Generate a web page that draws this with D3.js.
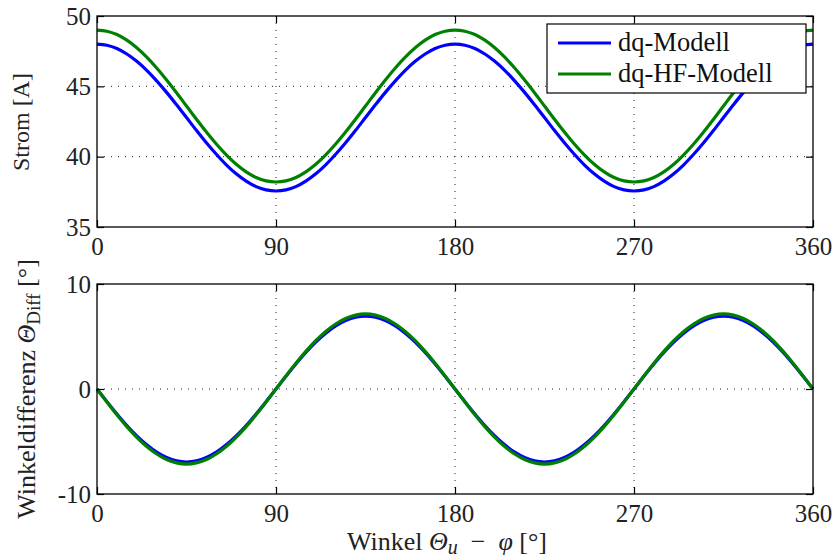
<!DOCTYPE html>
<html>
<head>
<meta charset="utf-8">
<script src="https://cdn.jsdelivr.net/npm/d3@7"></script>
<style>
  html, body { margin: 0; padding: 0; background: #fff; }
  svg { display: block; font-family: "Liberation Serif", "Times New Roman", serif; }
  .grid line { stroke: #222; stroke-width: 1; stroke-dasharray: 1,6; }
  .frame { fill: none; stroke: #000; stroke-width: 1.3; }
</style>
</head>
<body>
<svg id="chart" width="836" height="560"></svg>
<script>
// Angle grid in degrees (sampled every 5°)
const angles = d3.range(0, 361, 5);

// Current over angle [A]
const stromDq = [
  48.00, 47.92, 47.69, 47.30, 46.78, 46.14, 45.39, 44.57, 43.69, 42.78,
  41.87, 40.99, 40.17, 39.42, 38.78, 38.26, 37.87, 37.64, 37.56,
  37.64, 37.87, 38.26, 38.78, 39.42, 40.17, 40.99, 41.87, 42.78,
  43.69, 44.57, 45.39, 46.14, 46.78, 47.30, 47.69, 47.92, 48.00,
  47.92, 47.69, 47.30, 46.78, 46.14, 45.39, 44.57, 43.69, 42.78,
  41.87, 40.99, 40.17, 39.42, 38.78, 38.26, 37.87, 37.64, 37.56,
  37.64, 37.87, 38.26, 38.78, 39.42, 40.17, 40.99, 41.87, 42.78,
  43.69, 44.57, 45.39, 46.14, 46.78, 47.30, 47.69, 47.92, 48.00
];
const stromHf = [
  49.00, 48.92, 48.68, 48.28, 47.74, 47.07, 46.30, 45.45, 44.54, 43.60,
  42.66, 41.75, 40.90, 40.13, 39.46, 38.92, 38.52, 38.28, 38.20,
  38.28, 38.52, 38.92, 39.46, 40.13, 40.90, 41.75, 42.66, 43.60,
  44.54, 45.45, 46.30, 47.07, 47.74, 48.28, 48.68, 48.92, 49.00,
  48.92, 48.68, 48.28, 47.74, 47.07, 46.30, 45.45, 44.54, 43.60,
  42.66, 41.75, 40.90, 40.13, 39.46, 38.92, 38.52, 38.28, 38.20,
  38.28, 38.52, 38.92, 39.46, 40.13, 40.90, 41.75, 42.66, 43.60,
  44.54, 45.45, 46.30, 47.07, 47.74, 48.28, 48.68, 48.92, 49.00
];

// Angle difference over angle [°]
const diffDq = [
  0.00, -1.21, -2.38, -3.48, -4.47, -5.32, -6.02, -6.53, -6.85, -6.95,
  -6.85, -6.53, -6.02, -5.32, -4.47, -3.48, -2.38, -1.21, 0.00,
  1.21, 2.38, 3.48, 4.47, 5.32, 6.02, 6.53, 6.85, 6.95,
  6.85, 6.53, 6.02, 5.32, 4.47, 3.48, 2.38, 1.21, 0.00,
  -1.21, -2.38, -3.48, -4.47, -5.32, -6.02, -6.53, -6.85, -6.95,
  -6.85, -6.53, -6.02, -5.32, -4.47, -3.48, -2.38, -1.21, 0.00,
  1.21, 2.38, 3.48, 4.47, 5.32, 6.02, 6.53, 6.85, 6.95,
  6.85, 6.53, 6.02, 5.32, 4.47, 3.48, 2.38, 1.21, 0.00
];
const diffHf = [
  0.00, -1.24, -2.45, -3.58, -4.60, -5.48, -6.19, -6.72, -7.04, -7.15,
  -7.04, -6.72, -6.19, -5.48, -4.60, -3.58, -2.45, -1.24, 0.00,
  1.24, 2.45, 3.58, 4.60, 5.48, 6.19, 6.72, 7.04, 7.15,
  7.04, 6.72, 6.19, 5.48, 4.60, 3.58, 2.45, 1.24, 0.00,
  -1.24, -2.45, -3.58, -4.60, -5.48, -6.19, -6.72, -7.04, -7.15,
  -7.04, -6.72, -6.19, -5.48, -4.60, -3.58, -2.45, -1.24, 0.00,
  1.24, 2.45, 3.58, 4.60, 5.48, 6.19, 6.72, 7.04, 7.15,
  7.04, 6.72, 6.19, 5.48, 4.60, 3.58, 2.45, 1.24, 0.00
];

const xTicks = [0, 90, 180, 270, 360];
const yTicksStrom = [35, 40, 45, 50];
const yTicksDiff = [-10, 0, 10];
const legendLabels = ["dq-Modell", "dq-HF-Modell"];
const colors = ["#0000ff", "#008000"];

const FONT = "'Liberation Serif', 'Times New Roman', serif";
const svg = d3.select("#chart");
const left = 97, right = 813;
const plain = d => String(d);

const x = d3.scaleLinear().domain([0, 360]).range([left, right]);

function panel(top, bottom, yDomain, yTicks, series) {
  const y = d3.scaleLinear().domain(yDomain).range([bottom, top]);
  const g = svg.append("g");

  // dotted grid (inner lines only)
  const grid = g.append("g").attr("class", "grid");
  grid.selectAll(".gx").data(xTicks.slice(1, -1)).join("line")
    .attr("x1", d => x(d)).attr("x2", d => x(d))
    .attr("y1", top).attr("y2", bottom);
  grid.selectAll(".gy").data(yTicks.slice(1, -1)).join("line")
    .attr("x1", left).attr("x2", right)
    .attr("y1", d => y(d)).attr("y2", d => y(d));

  // curves
  const line = d3.line()
    .x((d, i) => x(angles[i]))
    .y(d => y(d))
    .curve(d3.curveCatmullRom);
  series.forEach((s, k) => {
    g.append("path")
      .datum(s)
      .attr("fill", "none")
      .attr("stroke", colors[k])
      .attr("stroke-width", 3.2)
      .attr("stroke-linejoin", "round")
      .attr("d", line);
  });

  // axes with inward ticks
  const axB = d3.axisBottom(x).tickValues(xTicks).tickSizeInner(-7).tickSizeOuter(0).tickPadding(10).tickFormat(plain);
  const axT = d3.axisTop(x).tickValues(xTicks).tickSizeInner(-7).tickSizeOuter(0).tickFormat("");
  const axL = d3.axisLeft(y).tickValues(yTicks).tickSizeInner(-7).tickSizeOuter(0).tickPadding(6).tickFormat(plain);
  const axR = d3.axisRight(y).tickValues(yTicks).tickSizeInner(-7).tickSizeOuter(0).tickFormat("");

  [[axB, `translate(0,${bottom})`], [axT, `translate(0,${top})`],
   [axL, `translate(${left},0)`], [axR, `translate(${right},0)`]].forEach(([ax, tr]) => {
    const a = g.append("g").attr("transform", tr).call(ax)
      .attr("font-family", FONT).attr("font-size", 25);
    a.select(".domain").remove();
    a.selectAll(".tick line").attr("stroke", "#000").attr("stroke-width", 1.2);
    a.selectAll(".tick text")
      .style("font-family", FONT).style("font-size", "25px").attr("fill", "#222");
  });

  g.append("rect").attr("class", "frame")
    .attr("x", left).attr("y", top)
    .attr("width", right - left).attr("height", bottom - top);
  return { g, y };
}

const p1 = panel(16, 227, [35, 50], yTicksStrom, [stromDq, stromHf]);
const p2 = panel(284, 494, [-10, 10], yTicksDiff, [diffDq, diffHf]);

// axis titles
svg.append("text")
  .attr("transform", "translate(29,122) rotate(-90)")
  .attr("text-anchor", "middle")
  .attr("font-size", 24).attr("fill", "#222")
  .text("Strom [A]");

const yl = svg.append("text")
  .attr("transform", "translate(35,389) rotate(-90)")
  .attr("text-anchor", "middle")
  .attr("font-size", 26).attr("fill", "#222");
yl.append("tspan").text("Winkeldifferenz ");
yl.append("tspan").attr("font-style", "italic").text("Θ");
yl.append("tspan").attr("font-size", 19).attr("dy", 5).text("Diff");
yl.append("tspan").attr("dy", -5).text(" [°]");

const xl = svg.append("text")
  .attr("x", 447).attr("y", 550)
  .attr("text-anchor", "middle")
  .attr("font-size", 26).attr("fill", "#222");
xl.append("tspan").text("Winkel ");
xl.append("tspan").attr("font-style", "italic").text("Θ");
xl.append("tspan").attr("font-style", "italic").attr("font-size", 20).attr("dy", 4).text("u");
xl.append("tspan").attr("dy", -4).text("\u2002−\u2002");
xl.append("tspan").attr("font-style", "italic").text("φ");
xl.append("tspan").text(" [°]");

// legend
const lg = svg.append("g");
lg.append("rect")
  .attr("x", 547).attr("y", 24).attr("width", 259).attr("height", 69)
  .attr("fill", "#fff").attr("stroke", "#000").attr("stroke-width", 1.2);
legendLabels.forEach((lab, i) => {
  const yy = 43 + i * 31;
  lg.append("line")
    .attr("x1", 558).attr("x2", 611).attr("y1", yy).attr("y2", yy)
    .attr("stroke", colors[i]).attr("stroke-width", 3.2);
  lg.append("text")
    .attr("x", 618).attr("y", yy + 8)
    .attr("font-size", 26.5).attr("fill", "#111")
    .text(lab);
});
</script>
</body>
</html>
